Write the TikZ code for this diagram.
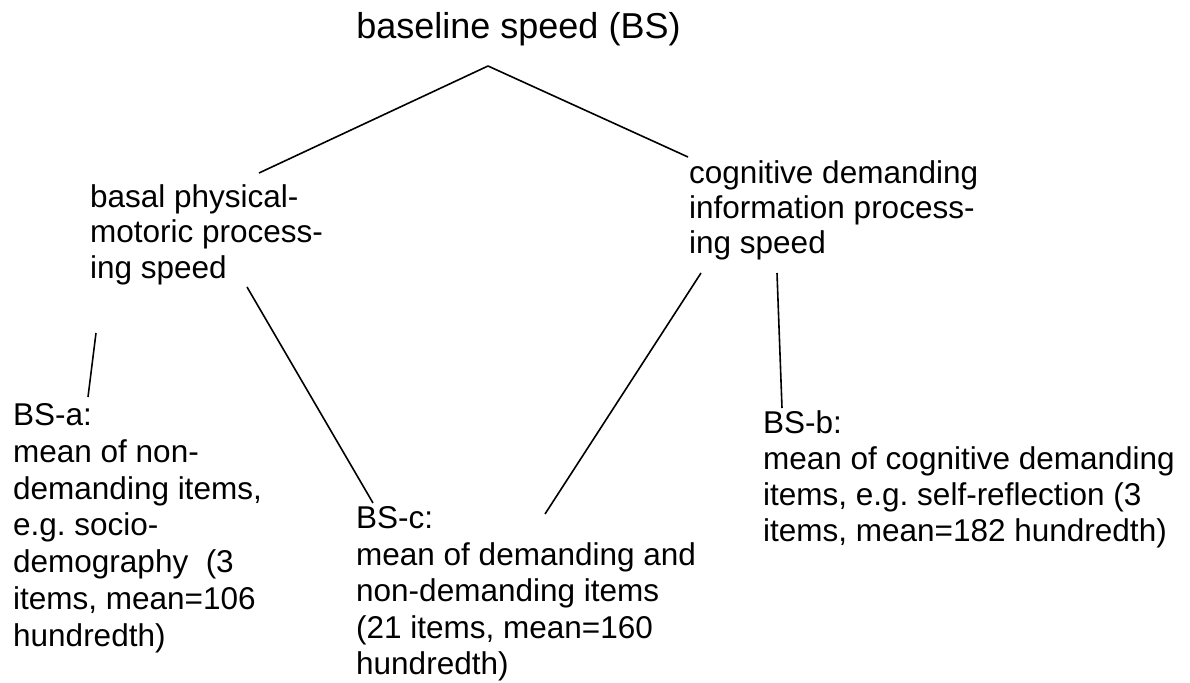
\documentclass[tikz,border=0pt]{standalone}
\usepackage{fontspec}
\setmainfont[Ligatures=CommonOff]{Liberation Sans}
\frenchspacing
\tikzset{
	txt/.style={align=left, anchor=north west, inner sep=0pt, font=\fontsize{31.5}{#1}\selectfont},
	txt/.default=36,
	link/.style={line width=1.6pt}
}

\begin{document}
\begin{tikzpicture}[x=1pt,y=-1pt]
	\useasboundingbox (0,0) rectangle (1190,682);
	\node[anchor=north, inner sep=0pt, font=\fontsize{36}{40}\selectfont] (bs) at (518.5,12.7){baseline speed (BS)};%top
	\node[txt=35.5] (basal) at (90,184.3){basal physical-\\motoric process-\\ing speed};%left
	\node[txt=35] (cog) at (689,160.3){cognitive demanding\\information process-\\ing speed};%right
	\node[txt=36.8] (bsa) at (13,403.3){BS-a:\\mean of non-\\demanding items,\\e.g. socio-\\demography~ (3\\items, mean=106\\hundredth)};%a
	\node[txt=36.5] (bsc) at (356,506.3){BS-c:\\mean of demanding and\\non-demanding items\\(21 items, mean=160\\hundredth)};%c
	\node[txt] (bsb) at (763,410.3){BS-b:\\mean of cognitive demanding\\items, e.g. self-reflection (3\\items, mean=182 hundredth)};%b
	\draw[link] ([xshift=-30.5pt,yshift=-53.3pt]bs.north) -- ([xshift=169pt,yshift=11.3pt]basal.north west);
	\draw[link] ([xshift=-30.5pt,yshift=-53.3pt]bs.north) -- ([xshift=-1pt,yshift=3.3pt]cog.north west);
	\draw[link] ([xshift=6pt,yshift=-148.7pt]basal.north west) -- ([xshift=75pt,yshift=6.3pt]bsa.north west);
	\draw[link] ([xshift=157pt,yshift=-102.7pt]basal.north west) -- ([xshift=17pt,yshift=3.3pt]bsc.north west);
	\draw[link] ([xshift=12pt,yshift=-112.7pt]cog.north west) -- ([xshift=189pt,yshift=-7.7pt]bsc.north west);
	\draw[link] ([xshift=88pt,yshift=-112.7pt]cog.north west) -- ([xshift=19pt,yshift=2.3pt]bsb.north west);
\end{tikzpicture}
\end{document}
